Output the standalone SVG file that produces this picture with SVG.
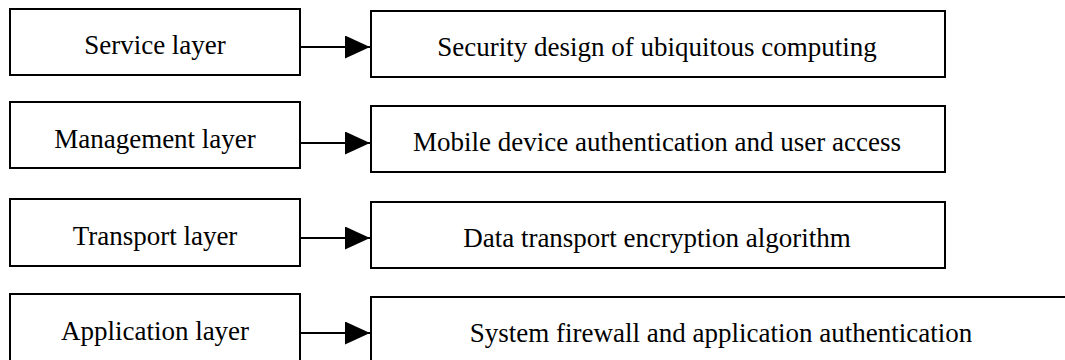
<svg xmlns="http://www.w3.org/2000/svg" width="1065" height="360" viewBox="0 0 1065 360">
<style>
.box{fill:#fff;stroke:#000;stroke-width:2}
.t{font-family:"Liberation Serif","Times New Roman",serif;font-size:27px;fill:#000;text-anchor:middle}
.c{stroke:#000;stroke-width:2;fill:none}
</style>
<defs>
<marker id="ah" markerWidth="25" markerHeight="23" refX="25" refY="11.5" orient="auto" markerUnits="userSpaceOnUse" viewBox="0 0 25 23">
<path d="M0,0 L25,11.5 L0,23 Z" fill="#000"/>
</marker>
</defs>
<rect width="1065" height="360" fill="#fff"/>
<g id="n1"><rect class="box" x="10" y="9" width="290" height="66"/><text class="t" x="155" y="54">Service layer</text></g>
<g id="n2"><rect class="box" x="10" y="102" width="290" height="66"/><text class="t" x="155" y="148">Management layer</text></g>
<g id="n3"><rect class="box" x="10" y="199" width="290" height="67"/><text class="t" x="155" y="245">Transport layer</text></g>
<g id="n4"><rect class="box" x="10" y="294" width="290" height="80"/><text class="t" x="155" y="340">Application layer</text></g>
<g id="r1"><rect class="box" x="371" y="11" width="574" height="66"/><text class="t" x="657" y="56">Security design of ubiquitous computing</text></g>
<g id="r2"><rect class="box" x="371" y="106" width="574" height="66"/><text class="t" x="657" y="151">Mobile device authentication and user access</text></g>
<g id="r3"><rect class="box" x="371" y="202" width="574" height="66"/><text class="t" x="657" y="247">Data transport encryption algorithm</text></g>
<g id="r4"><path class="c" d="M371,370 L371,297 L1066,297"/><text class="t" x="721" y="342">System firewall and application authentication</text></g>
<g id="connectors">
<line class="c" x1="300" y1="47" x2="370" y2="47" marker-end="url(#ah)"/>
<line class="c" x1="300" y1="143" x2="370" y2="143" marker-end="url(#ah)"/>
<line class="c" x1="300" y1="238" x2="370" y2="238" marker-end="url(#ah)"/>
<line class="c" x1="300" y1="333" x2="370" y2="333" marker-end="url(#ah)"/>
</g>
</svg>
